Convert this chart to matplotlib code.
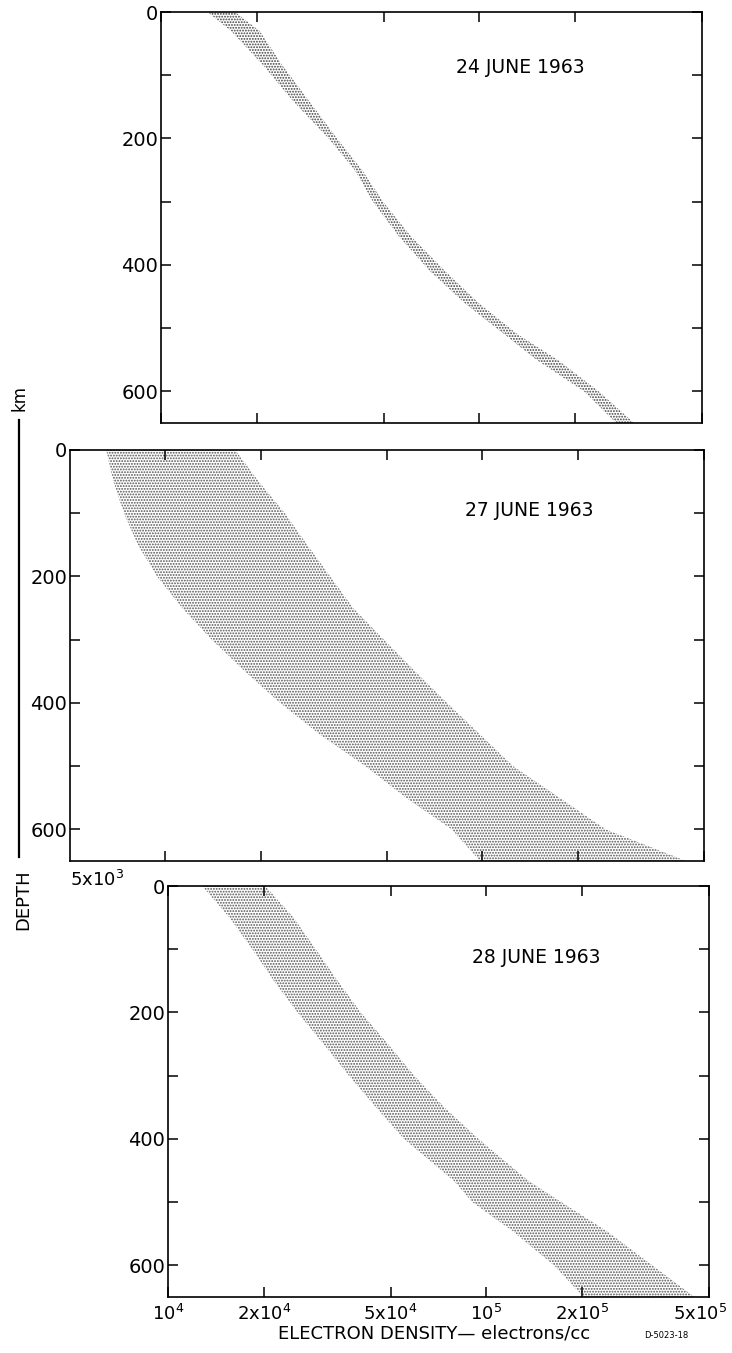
import numpy as np
import matplotlib
matplotlib.use("Agg")
import matplotlib.pyplot as plt
from matplotlib.lines import Line2D
from matplotlib.transforms import ScaledTranslation
from matplotlib.ticker import FixedLocator, NullLocator, NullFormatter


# band edges: depth (km) vs electron density (electrons/cc)
depth_24 = [0, 30, 85, 140, 200, 250, 300, 355, 410, 460, 510, 550, 600, 650]
low_24 = [1.40e4, 1.66e4, 2.10e4, 2.59e4, 3.36e4, 4.06e4, 4.63e4, 5.59e4,
          7.00e4, 8.97e4, 1.20e5, 1.51e5, 2.13e5, 2.69e5]
high_24 = [1.71e4, 2.04e4, 2.41e4, 2.91e4, 3.57e4, 4.28e4, 4.98e4, 6.10e4,
           7.81e4, 9.93e4, 1.32e5, 1.76e5, 2.37e5, 3.06e5]

depth_27 = [0, 50, 100, 150, 200, 250, 300, 350, 400, 450, 500, 550, 600, 650]
low_27 = [6.50e3, 6.86e3, 7.40e3, 8.19e3, 9.41e3, 1.13e4, 1.40e4, 1.78e4,
          2.30e4, 3.07e4, 4.27e4, 5.74e4, 8.00e4, 9.83e4]
high_27 = [1.66e4, 1.97e4, 2.38e4, 2.80e4, 3.31e4, 3.91e4, 4.89e4, 6.13e4,
           7.73e4, 9.83e4, 1.25e5, 1.75e5, 2.45e5, 4.39e5]

depth_28 = [0, 50, 100, 150, 200, 250, 300, 350, 400, 467, 500, 546, 600, 650]
low_28 = [1.28e4, 1.56e4, 1.84e4, 2.15e4, 2.55e4, 3.08e4, 3.70e4, 4.50e4,
          5.51e4, 7.93e4, 9.03e4, 1.21e5, 1.63e5, 2.02e5]
high_28 = [2.02e4, 2.48e4, 2.91e4, 3.41e4, 4.03e4, 4.91e4, 5.93e4, 7.37e4,
           9.44e4, 1.36e5, 1.72e5, 2.39e5, 3.32e5, 4.50e5]

dates = ["24 JUNE 1963", "27 JUNE 1963", "28 JUNE 1963"]

x_ticks = [1e4, 2e4, 5e4, 1e5, 2e5, 5e5]
x_tick_labels = [r"10$^{4}$", r"2x10$^{4}$", r"5x10$^{4}$",
                 r"10$^{5}$", r"2x10$^{5}$", r"5x10$^{5}$"]
y_major = [0, 200, 400, 600]
y_minor = [100, 300, 500]


plt.rcParams["hatch.linewidth"] = 0.9
plt.rcParams["font.family"] = "DejaVu Sans"

W, H = 732, 1353
fig = plt.figure(figsize=(W / 100, H / 100), dpi=100)


def box(left, top, right, bottom):
    # pixel box -> figure fraction
    return [left / W, 1 - bottom / H, (right - left) / W, (bottom - top) / H]


panels = [
    (box(161, 12, 702, 423), 1e4, depth_24, low_24, high_24, dates[0], (0.665, 0.864), "#404040"),
    (box(70, 450, 704, 861), 5e3, depth_27, low_27, high_27, dates[1], (0.724, 0.854), "#555555"),
    (box(168, 886, 709, 1297), 1e4, depth_28, low_28, high_28, dates[2], (0.680, 0.825), "#555555"),
]

axes = []
for rect, xmin, depth, low, high, label, pos, dot_col in panels:
    ax = fig.add_axes(rect)
    ax.set_xscale("log")
    ax.set_xlim(xmin, 5e5)
    ax.set_ylim(650, 0)

    ax.fill_betweenx(depth, low, high, facecolor="white", edgecolor=dot_col,
                     hatch="......", linewidth=0)

    ax.xaxis.set_major_locator(FixedLocator(x_ticks))
    ax.xaxis.set_minor_locator(NullLocator())
    ax.xaxis.set_major_formatter(NullFormatter())
    ax.yaxis.set_major_locator(FixedLocator(y_major))
    ax.yaxis.set_minor_locator(FixedLocator(y_minor))
    ax.yaxis.set_minor_formatter(NullFormatter())

    ax.tick_params(which="both", direction="in", top=True, right=True,
                   length=7, width=1.1, labelsize=14, pad=2)
    for s in ax.spines.values():
        s.set_linewidth(1.2)

    ax.text(pos[0], pos[1], label, transform=ax.transAxes,
            ha="center", va="center", fontsize=13.5)
    axes.append(ax)

# only the bottom panel carries x tick labels
axes[2].set_xticks(x_ticks)
axes[2].set_xticklabels(x_tick_labels)
axes[2].tick_params(axis="x", pad=5, labelsize=13)
# last label sits a little left of its tick so it stays inside the page
last = axes[2].xaxis.get_major_ticks()[-1].label1
last.set_transform(last.get_transform() + ScaledTranslation(-0.09, 0, fig.dpi_scale_trans))

axes[1].text(0, -0.045, r"5x10$^{3}$", transform=axes[1].transAxes,
             ha="left", va="center", fontsize=13)

fig.text(434 / W, 1 - 1334 / H, "ELECTRON DENSITY\u2014 electrons/cc",
         ha="center", va="center", fontsize=13)
fig.text(666 / W, 1 - 1335 / H, "D-5023-18", ha="center", va="center", fontsize=6)

# vertical depth label with its rule
fig.text(23 / W, 1 - 900 / H, "DEPTH", rotation=90, ha="center", va="center",
         fontsize=13)
fig.add_artist(Line2D([19 / W, 19 / W], [1 - 420 / H, 1 - 857 / H],
                      color="black", linewidth=1.6))
fig.text(19 / W, 1 - 398 / H, "km", rotation=90, ha="center", va="center",
         fontsize=12)

fig.savefig("out.png", dpi=100)
